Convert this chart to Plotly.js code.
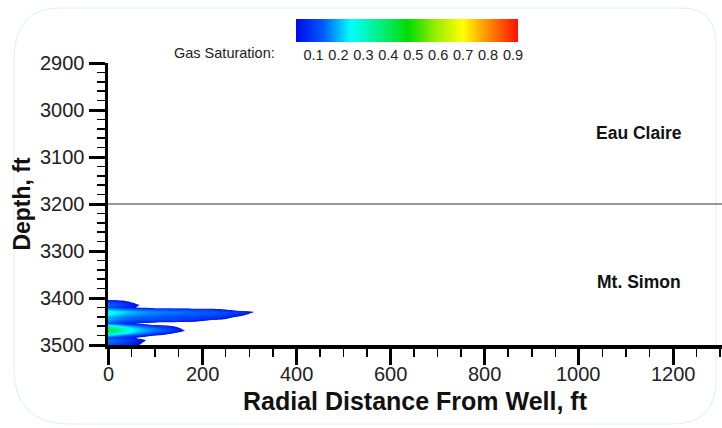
<!DOCTYPE html>
<html>
<head>
<meta charset="utf-8">
<script src="https://cdn.plot.ly/plotly-3.0.1.min.js"></script>
<style>
html,body{margin:0;padding:0;background:#fff;}
#chart{width:722px;height:428px;}
</style>
</head>
<body>
<div id="chart"></div>
<script>
// Radial distance from well (ft)
var radialDistance = [0, 20, 40, 60, 80, 100, 120, 140, 160, 180, 200, 220, 240, 260, 280, 300, 320];
// Depth (ft)
var depth = [3400, 3405, 3410, 3415, 3420, 3425, 3430, 3435, 3440, 3445, 3450, 3455, 3460, 3465, 3470, 3475, 3480, 3485, 3490, 3495, 3500];
// Gas saturation, one row per depth
var gasSaturation = [
  [0.00, 0.00, 0.00, 0.00, 0.00, 0.00, 0.00, 0.00, 0.00, 0.00, 0.00, 0.00, 0.00, 0.00, 0.00, 0.00, 0.00],
  [0.07, 0.06, 0.05, 0.03, 0.00, 0.00, 0.00, 0.00, 0.00, 0.00, 0.00, 0.00, 0.00, 0.00, 0.00, 0.00, 0.00],
  [0.13, 0.11, 0.08, 0.05, 0.00, 0.00, 0.00, 0.00, 0.00, 0.00, 0.00, 0.00, 0.00, 0.00, 0.00, 0.00, 0.00],
  [0.15, 0.13, 0.10, 0.07, 0.04, 0.00, 0.00, 0.00, 0.00, 0.00, 0.00, 0.00, 0.00, 0.00, 0.00, 0.00, 0.00],
  [0.12, 0.10, 0.08, 0.06, 0.04, 0.00, 0.00, 0.00, 0.00, 0.00, 0.00, 0.00, 0.00, 0.00, 0.00, 0.00, 0.00],
  [0.20, 0.18, 0.16, 0.15, 0.14, 0.13, 0.13, 0.12, 0.12, 0.11, 0.11, 0.10, 0.08, 0.05, 0.00, 0.00, 0.00],
  [0.28, 0.25, 0.22, 0.20, 0.18, 0.17, 0.16, 0.16, 0.15, 0.15, 0.14, 0.14, 0.13, 0.12, 0.11, 0.08, 0.04],
  [0.26, 0.23, 0.20, 0.18, 0.17, 0.16, 0.15, 0.15, 0.14, 0.14, 0.13, 0.13, 0.12, 0.11, 0.09, 0.05, 0.00],
  [0.20, 0.18, 0.16, 0.15, 0.14, 0.14, 0.13, 0.13, 0.12, 0.12, 0.11, 0.11, 0.10, 0.08, 0.05, 0.00, 0.00],
  [0.20, 0.17, 0.15, 0.14, 0.13, 0.13, 0.12, 0.12, 0.11, 0.11, 0.10, 0.09, 0.07, 0.04, 0.00, 0.00, 0.00],
  [0.17, 0.14, 0.12, 0.11, 0.10, 0.10, 0.09, 0.09, 0.08, 0.07, 0.05, 0.00, 0.00, 0.00, 0.00, 0.00, 0.00],
  [0.14, 0.11, 0.08, 0.06, 0.04, 0.00, 0.00, 0.00, 0.00, 0.00, 0.00, 0.00, 0.00, 0.00, 0.00, 0.00, 0.00],
  [0.30, 0.25, 0.20, 0.16, 0.13, 0.11, 0.09, 0.06, 0.03, 0.00, 0.00, 0.00, 0.00, 0.00, 0.00, 0.00, 0.00],
  [0.38, 0.33, 0.27, 0.22, 0.18, 0.15, 0.12, 0.09, 0.05, 0.00, 0.00, 0.00, 0.00, 0.00, 0.00, 0.00, 0.00],
  [0.42, 0.36, 0.29, 0.23, 0.19, 0.16, 0.13, 0.10, 0.065, 0.03, 0.00, 0.00, 0.00, 0.00, 0.00, 0.00, 0.00],
  [0.36, 0.30, 0.24, 0.19, 0.15, 0.12, 0.09, 0.06, 0.03, 0.00, 0.00, 0.00, 0.00, 0.00, 0.00, 0.00, 0.00],
  [0.22, 0.18, 0.14, 0.11, 0.08, 0.06, 0.04, 0.00, 0.00, 0.00, 0.00, 0.00, 0.00, 0.00, 0.00, 0.00, 0.00],
  [0.12, 0.10, 0.08, 0.06, 0.04, 0.00, 0.00, 0.00, 0.00, 0.00, 0.00, 0.00, 0.00, 0.00, 0.00, 0.00, 0.00],
  [0.16, 0.14, 0.12, 0.09, 0.06, 0.03, 0.00, 0.00, 0.00, 0.00, 0.00, 0.00, 0.00, 0.00, 0.00, 0.00, 0.00],
  [0.15, 0.13, 0.10, 0.08, 0.05, 0.00, 0.00, 0.00, 0.00, 0.00, 0.00, 0.00, 0.00, 0.00, 0.00, 0.00, 0.00],
  [0.13, 0.11, 0.09, 0.07, 0.04, 0.00, 0.00, 0.00, 0.00, 0.00, 0.00, 0.00, 0.00, 0.00, 0.00, 0.00, 0.00]
];
// Colour bar scale
var colorbarTicks = [0.1, 0.2, 0.3, 0.4, 0.5, 0.6, 0.7, 0.8, 0.9];
var colorbarTickText = ['0.1', '0.2', '0.3', '0.4', '0.5', '0.6', '0.7', '0.8', '0.9'];
var colorbarMin = 0.03, colorbarMax = 0.92;
var xTickVals = [0, 200, 400, 600, 800, 1000, 1200];
var xTickText = ['0', '200', '400', '600', '800', '1000', '1200'];
var yTickVals = [2900, 3000, 3100, 3200, 3300, 3400, 3500];
var boundaryDepth = 3200;
var formationLabels = ['Eau Claire', 'Mt. Simon'];
var formationLabelDepths = [3049, 3366];

var jet = [
  [0.0, '#0008e8'],
  [0.12, '#0058ff'],
  [0.247, '#00ffff'],
  [0.38, '#00f080'],
  [0.506, '#00dd00'],
  [0.63, '#99ee00'],
  [0.753, '#ffff00'],
  [0.86, '#ff9000'],
  [1.0, '#ff1000']
];

// Filled contour: Plotly maps the colour scale over [start - size/2, end + size/2].
// Build a scale that is transparent below the plume threshold and jet (in data units) above it.
var cStart = 0.06, cEnd = 0.9, cSize = 0.01;
var nLevels = Math.floor((cEnd + cSize / 1e6 - cStart) / cSize) + 1;
var dom0 = cStart - cSize / 2, dom1 = (nLevels - 0.5) * cSize + cStart;
function toF(v) { return (v - dom0) / (dom1 - dom0); }
var contourScale = [[0, 'rgba(255,255,255,0)'], [toF(cStart - 0.001), 'rgba(255,255,255,0)'], [toF(cStart), '#000cec']];
jet.forEach(function (s) {
  var f = toF(colorbarMin + s[0] * (colorbarMax - colorbarMin));
  if (f > toF(cStart) && f < 1) contourScale.push([f, s[1]]);
});
contourScale.push([1, '#ff1800']);

var traces = [
  {
    type: 'contour',
    x: radialDistance,
    y: depth,
    z: gasSaturation,
    autocontour: false,
    contours: {start: cStart, end: cEnd, size: cSize, coloring: 'fill', showlines: false},
    line: {width: 0, smoothing: 1.0},
    colorscale: contourScale,
    showscale: false,
    hoverinfo: 'skip'
  },
  {
    type: 'heatmap',
    x: [-900, -800],
    y: [3000, 3100],
    z: [[colorbarMin, colorbarMax], [colorbarMin, colorbarMax]],
    zmin: colorbarMin,
    zmax: colorbarMax,
    colorscale: jet,
    hoverinfo: 'skip',
    colorbar: {
      orientation: 'h',
      x: 0.487, xanchor: 'center',
      y: 1.156, yanchor: 'top',
      lenmode: 'pixels', len: 222,
      thickness: 23,
      xpad: 0, ypad: 0,
      outlinewidth: 0,
      ticks: '',
      tickvals: colorbarTicks,
      ticktext: colorbarTickText,
      tickfont: {family: 'Liberation Sans, Arial, sans-serif', size: 14.5, color: '#222'}
    }
  }
];

var fontFam = 'Liberation Sans, Arial, Helvetica, sans-serif';
function px(x) { return (x - 108) / 614; }
function py(y) { return (345 - y) / 282; }

var annotations = [
  {text: 'Gas Saturation:', xref: 'paper', yref: 'paper', x: px(224), y: py(53),
   showarrow: false, xanchor: 'center', yanchor: 'middle', font: {family: fontFam, size: 14.5, color: '#222'}}
];
formationLabels.forEach(function (t, i) {
  annotations.push({text: '<b>' + t + '</b>', xref: 'paper', yref: 'y', x: px(639), y: formationLabelDepths[i],
    showarrow: false, xanchor: 'center', yanchor: 'middle', font: {family: fontFam, size: 17.5, color: '#111'}});
});
// x-axis tick labels (placed just under the long ticks)
xTickVals.forEach(function (v, i) {
  annotations.push({text: xTickText[i], xref: 'x', yref: 'paper', x: v, y: py(374),
    showarrow: false, xanchor: 'center', yanchor: 'middle', font: {family: fontFam, size: 20, color: '#222'}});
});

var borderPath = 'M ' + px(60) + ',' + py(8) + ' L ' + px(680) + ',' + py(8) +
  ' Q ' + px(716) + ',' + py(8) + ' ' + px(716) + ',' + py(44) +
  ' L ' + px(716) + ',' + py(380) + ' Q ' + px(716) + ',' + py(424) + ' ' + px(672) + ',' + py(424) +
  ' L ' + px(70) + ',' + py(424) + ' Q ' + px(14) + ',' + py(424) + ' ' + px(14) + ',' + py(368) +
  ' L ' + px(14) + ',' + py(60) + ' Q ' + px(14) + ',' + py(8) + ' ' + px(60) + ',' + py(8) + ' Z';

var layout = {
  width: 722, height: 428,
  margin: {l: 108, r: 0, t: 63, b: 83, pad: 0},
  paper_bgcolor: '#fff', plot_bgcolor: 'rgba(0,0,0,0)',
  showlegend: false,
  font: {family: fontFam, color: '#222'},
  xaxis: {
    range: [0, 1304],
    tickvals: xTickVals,
    showticklabels: false,
    ticks: 'outside', ticklen: 16, tickwidth: 3, tickcolor: '#000',
    minor: {dtick: 50, tick0: 0, ticks: 'outside', ticklen: 8, tickwidth: 1.5, tickcolor: '#000', showgrid: false},
    showline: true, linewidth: 3.5, linecolor: '#000',
    showgrid: false, zeroline: false,
    automargin: false,
    title: {text: '<b>Radial Distance From Well, ft</b>', font: {family: fontFam, size: 25, color: '#111'}, standoff: 30}
  },
  yaxis: {
    range: [3500, 2900],
    tickvals: yTickVals,
    ticks: 'outside', ticklen: 16, tickwidth: 3, tickcolor: '#000',
    minor: {dtick: 20, tick0: 2900, ticks: 'outside', ticklen: 8, tickwidth: 1.5, tickcolor: '#000', showgrid: false},
    showline: true, linewidth: 3.5, linecolor: '#000',
    showgrid: false, zeroline: false,
    automargin: false,
    tickfont: {family: fontFam, size: 20, color: '#222'},
    title: {text: '<b>Depth, ft</b>', font: {family: fontFam, size: 23, color: '#111'}, standoff: 4}
  },
  shapes: [
    {type: 'line', xref: 'paper', yref: 'y', x0: 0, x1: 1, y0: boundaryDepth, y1: boundaryDepth,
     line: {color: '#333', width: 1.2}},
    {type: 'path', xref: 'paper', yref: 'paper', path: borderPath, layer: 'below',
     line: {color: '#e4eeee', width: 1}}
  ],
  annotations: annotations
};

Plotly.newPlot('chart', traces, layout, {staticPlot: true, displayModeBar: false});
</script>
</body>
</html>
